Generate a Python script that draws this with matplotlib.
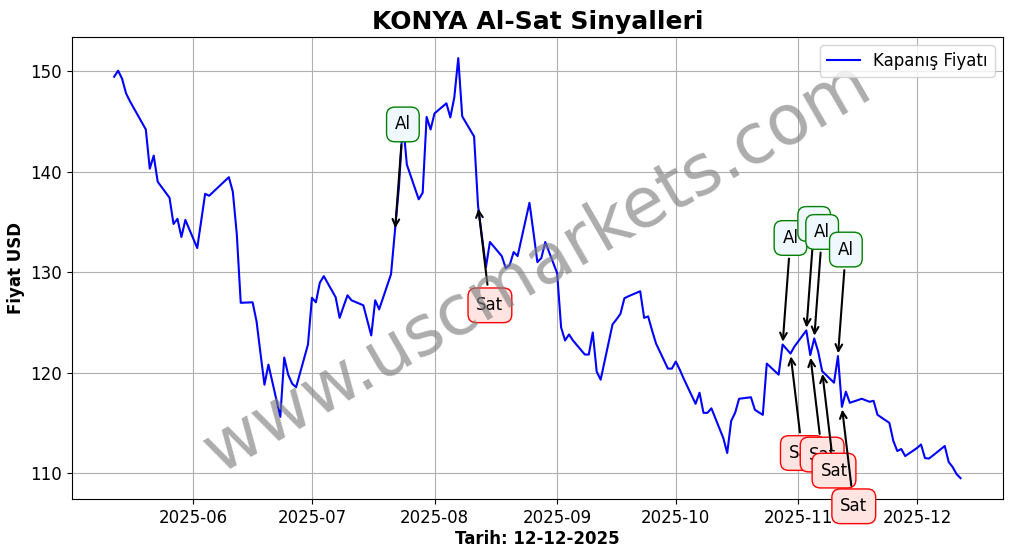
import datetime as dt
import matplotlib
matplotlib.use("Agg")
import matplotlib.pyplot as plt
import matplotlib.dates as mdates

# closing prices (BIST trading days)
dates = [
    "2025-05-12", "2025-05-13", "2025-05-14", "2025-05-15", "2025-05-16", "2025-05-20",
    "2025-05-21", "2025-05-22", "2025-05-23", "2025-05-26", "2025-05-27", "2025-05-28",
    "2025-05-29", "2025-05-30", "2025-06-02", "2025-06-03", "2025-06-04", "2025-06-05",
    "2025-06-10", "2025-06-11", "2025-06-12", "2025-06-13", "2025-06-16", "2025-06-17",
    "2025-06-18", "2025-06-19", "2025-06-20", "2025-06-23", "2025-06-24", "2025-06-25",
    "2025-06-26", "2025-06-27", "2025-06-30", "2025-07-01", "2025-07-02", "2025-07-03",
    "2025-07-04", "2025-07-07", "2025-07-08", "2025-07-09", "2025-07-10", "2025-07-11",
    "2025-07-14", "2025-07-16", "2025-07-17", "2025-07-18", "2025-07-21", "2025-07-22",
    "2025-07-23", "2025-07-24", "2025-07-25", "2025-07-28", "2025-07-29", "2025-07-30",
    "2025-07-31", "2025-08-01", "2025-08-04", "2025-08-05", "2025-08-06", "2025-08-07",
    "2025-08-08", "2025-08-11", "2025-08-12", "2025-08-13", "2025-08-14", "2025-08-15",
    "2025-08-18", "2025-08-19", "2025-08-20", "2025-08-21", "2025-08-22", "2025-08-25",
    "2025-08-26", "2025-08-27", "2025-08-28", "2025-08-29", "2025-09-01", "2025-09-02",
    "2025-09-03", "2025-09-04", "2025-09-05", "2025-09-08", "2025-09-09", "2025-09-10",
    "2025-09-11", "2025-09-12", "2025-09-15", "2025-09-16", "2025-09-17", "2025-09-18",
    "2025-09-19", "2025-09-22", "2025-09-23", "2025-09-24", "2025-09-25", "2025-09-26",
    "2025-09-29", "2025-09-30", "2025-10-01", "2025-10-02", "2025-10-03", "2025-10-06",
    "2025-10-07", "2025-10-08", "2025-10-09", "2025-10-10", "2025-10-13", "2025-10-14",
    "2025-10-15", "2025-10-16", "2025-10-17", "2025-10-20", "2025-10-21", "2025-10-22",
    "2025-10-23", "2025-10-24", "2025-10-27", "2025-10-28", "2025-10-30", "2025-10-31",
    "2025-11-03", "2025-11-04", "2025-11-05", "2025-11-06", "2025-11-07", "2025-11-10",
    "2025-11-11", "2025-11-12", "2025-11-13", "2025-11-14", "2025-11-17", "2025-11-18",
    "2025-11-19", "2025-11-20", "2025-11-21", "2025-11-24", "2025-11-25", "2025-11-26",
    "2025-11-27", "2025-11-28", "2025-12-01", "2025-12-02", "2025-12-03", "2025-12-04",
    "2025-12-05", "2025-12-08", "2025-12-09", "2025-12-10", "2025-12-11", "2025-12-12",
]
prices = [
    149.45, 150.05, 149.25, 147.8, 147.0, 144.2,
    140.3, 141.6, 139.0, 137.4, 134.8, 135.3,
    133.5, 135.2, 132.4, 135.1, 137.8, 137.6,
    139.45, 138.0, 133.8, 126.95, 127.0, 125.1,
    121.9, 118.8, 120.8, 115.6, 121.5, 119.8,
    118.9, 118.55, 122.8, 127.45, 127.0, 128.95,
    129.6, 127.5, 125.45, 126.6, 127.7, 127.2,
    126.7, 123.7, 127.2, 126.3, 129.8, 134.1,
    138.5, 145.0, 140.7, 137.25, 137.9, 145.45,
    144.2, 145.8, 146.8, 145.4, 147.4, 151.3,
    145.5, 143.5, 136.6, 133.5, 130.5, 133.0,
    131.6, 130.4, 130.7, 132.0, 131.6, 136.9,
    134.0, 131.0, 131.4, 133.0, 129.9, 124.5,
    123.2, 123.8, 123.2, 121.8, 121.8, 124.0,
    120.1, 119.3, 124.8, 125.3, 125.85, 127.4,
    127.6, 128.1, 125.45, 125.6, 124.2, 122.9,
    120.4, 120.4, 121.1, 120.3, 119.4, 116.9,
    118.0, 116.0, 116.0, 116.45, 113.5, 112.0,
    115.2, 116.0, 117.4, 117.55, 116.3, 116.05,
    115.8, 120.9, 119.8, 122.8, 121.9, 122.6,
    124.2, 121.75, 123.4, 122.1, 120.15, 119.0,
    121.65, 116.6, 118.1, 117.0, 117.4, 117.25,
    117.1, 117.2, 115.8, 115.0, 113.2, 112.2,
    112.4, 111.7, 112.5, 112.85, 111.5, 111.45,
    111.75, 112.7, 111.1, 110.6, 109.9, 109.5,
]

buy_dates = ["2025-07-22", "2025-10-28", "2025-11-03", "2025-11-05", "2025-11-11"]
sell_dates = ["2025-08-12", "2025-10-30", "2025-11-04", "2025-11-07", "2025-11-12"]

x = [dt.datetime.strptime(d, "%Y-%m-%d") for d in dates]
price_of = dict(zip(dates, prices))

fig = plt.figure(figsize=(10.12, 5.54), dpi=100)
ax = fig.add_axes([0.071, 0.099, 0.920, 0.834])

ax.plot(x, prices, color="blue", lw=1.5, label="Kapanış Fiyatı")

for d in buy_dates:
    t = dt.datetime.strptime(d, "%Y-%m-%d")
    p = price_of[d]
    ax.annotate("Al", xy=(t, p), xytext=(t + dt.timedelta(days=2), p + 10.6),
                fontsize=12, ha="center", va="center",
                arrowprops=dict(arrowstyle="->", color="black", lw=1.5),
                bbox=dict(boxstyle="round,pad=0.5", fc="aliceblue", ec="green"))

for d in sell_dates:
    t = dt.datetime.strptime(d, "%Y-%m-%d")
    p = price_of[d]
    ax.annotate("Sat", xy=(t, p), xytext=(t + dt.timedelta(days=3), p - 9.9),
                fontsize=12, ha="center", va="center",
                arrowprops=dict(arrowstyle="->", color="black", lw=1.5),
                bbox=dict(boxstyle="round,pad=0.5", fc="mistyrose", ec="red"))

ax.text(0.5, 0.5, "www.uscmarkets.com", transform=ax.transAxes, fontsize=50,
        color="gray", alpha=0.65, rotation=30, ha="center", va="center")

ax.xaxis.set_major_locator(mdates.MonthLocator())
ax.xaxis.set_major_formatter(mdates.DateFormatter("%Y-%m"))
ax.tick_params(labelsize=12)
ax.grid(True)
ax.set_title("KONYA Al-Sat Sinyalleri", fontsize=18, fontweight="bold")
ax.set_xlabel("Tarih: 12-12-2025", fontsize=12, fontweight="bold", labelpad=2)
ax.set_ylabel("Fiyat USD", fontsize=12, fontweight="bold")
ax.legend(loc="upper right", fontsize=12)

fig.savefig("out.png", dpi=100)
